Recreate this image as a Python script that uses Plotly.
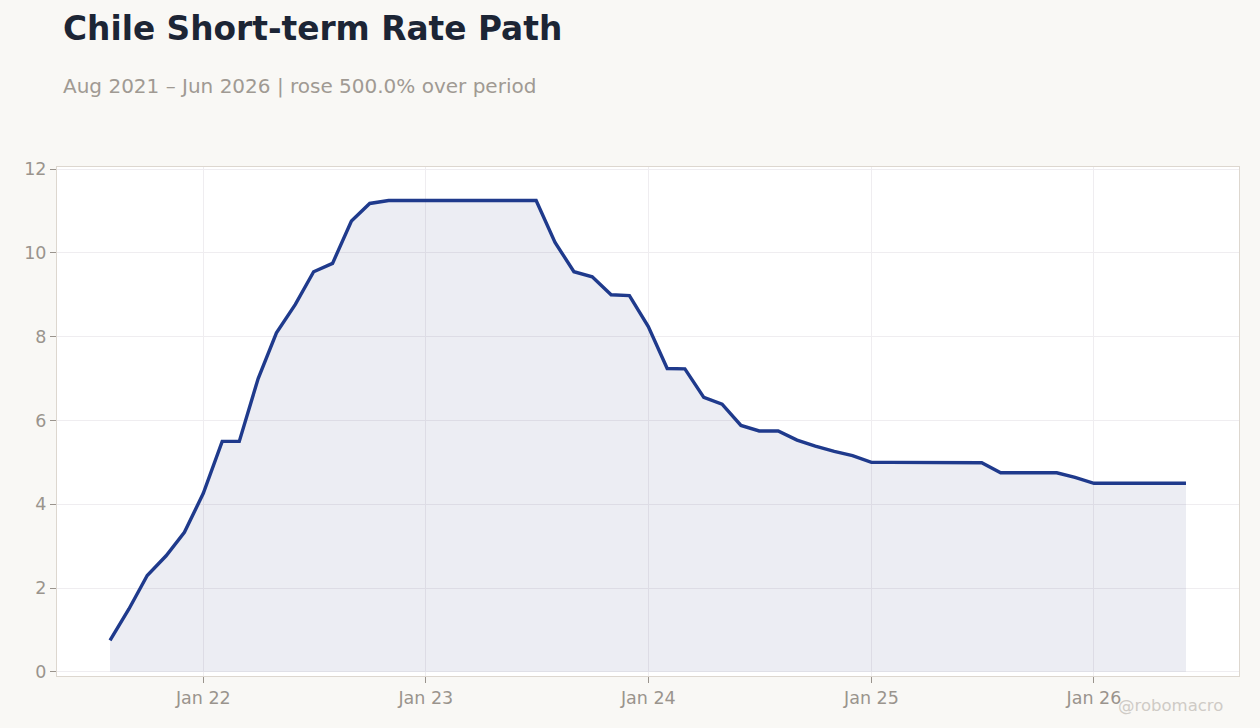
import pandas as pd
import plotly.graph_objects as go

dates = pd.date_range("2021-08-01", "2026-06-01", freq="MS")
rates = [
    0.75, 1.5, 2.3, 2.77, 3.33,
    4.26, 5.5, 5.5, 7.0, 8.09, 8.77, 9.55, 9.75, 10.76, 11.18, 11.25, 11.25,
    11.25, 11.25, 11.25, 11.25, 11.25, 11.25, 11.25, 10.25, 9.55, 9.43, 9.0, 8.98,
    8.24, 7.24, 7.23, 6.55, 6.39, 5.88, 5.75, 5.75, 5.53, 5.39, 5.26, 5.16,
    5.0, 5.0, 5.0, 5.0, 5.0, 5.0, 4.99, 4.75, 4.75, 4.75, 4.75, 4.64,
    4.5, 4.5, 4.5, 4.5, 4.5, 4.5,
]
title_text = "Chile Short-term Rate Path"
subtitle_text = "Aug 2021 – Jun 2026 | rose 500.0% over period"
y_ticks = [0, 2, 4, 6, 8, 10, 12]

fig = go.Figure()
fig.add_trace(go.Scatter(
    x=dates, y=rates, mode="lines",
    line=dict(color="#1f3a8c", width=3.4),
    fill="tozeroy", fillcolor="rgba(18,30,105,0.08)",
    hoverinfo="skip",
))

font_family = "DejaVu Sans"
fig.update_layout(
    width=1260, height=728,
    paper_bgcolor="#f9f8f5", plot_bgcolor="#ffffff",
    margin=dict(l=57, r=21, t=167, b=52),
    showlegend=False,
    font=dict(family=font_family, color="#9a948d", size=17.5),
    title=dict(
        text="<b>" + title_text + "</b>",
        x=63 / 1260, xanchor="left", xref="container",
        y=1 - 29 / 728, yanchor="middle", yref="container",
        font=dict(size=32.8, color="#1c2535", family=font_family),
    ),
    annotations=[
        dict(text=subtitle_text, xref="paper", yref="paper",
             x=(61 - 57) / 1182, y=(676 - 86) / 509,
             xanchor="left", yanchor="middle", showarrow=False,
             font=dict(size=20, color="#a09a93", family=font_family)),
        dict(text="@robomacro", xref="paper", yref="paper",
             x=(1170 - 57) / 1182, y=(676 - 705) / 509,
             xanchor="center", yanchor="middle", showarrow=False,
             font=dict(size=16.5, color="#cfcbc6", family=font_family)),
    ],
    xaxis=dict(
        range=["2021-05-06", "2026-08-27"],
        tickformat="%b %y", dtick="M12", tick0="2022-01-01",
        showgrid=True, gridcolor="#efedf0", gridwidth=1,
        ticks="outside", ticklen=6, tickcolor="#9a948d",
        showline=True, linecolor="#ddd7cf", linewidth=1, mirror=True,
        zeroline=False, tickfont=dict(size=17.5, color="#9a948d"),
    ),
    yaxis=dict(
        range=[-0.1, 12.05], tickvals=y_ticks,
        showgrid=True, gridcolor="#efedf0", gridwidth=1,
        ticks="outside", ticklen=6, tickcolor="#9a948d",
        showline=True, linecolor="#ddd7cf", linewidth=1, mirror=True,
        zeroline=False, tickfont=dict(size=17.5, color="#9a948d"),
    ),
)

fig.write_html(
    "out.html",
    config={"displayModeBar": False},
    post_script="document.body.style.margin='0';document.body.style.background='#f9f8f5';",
)
